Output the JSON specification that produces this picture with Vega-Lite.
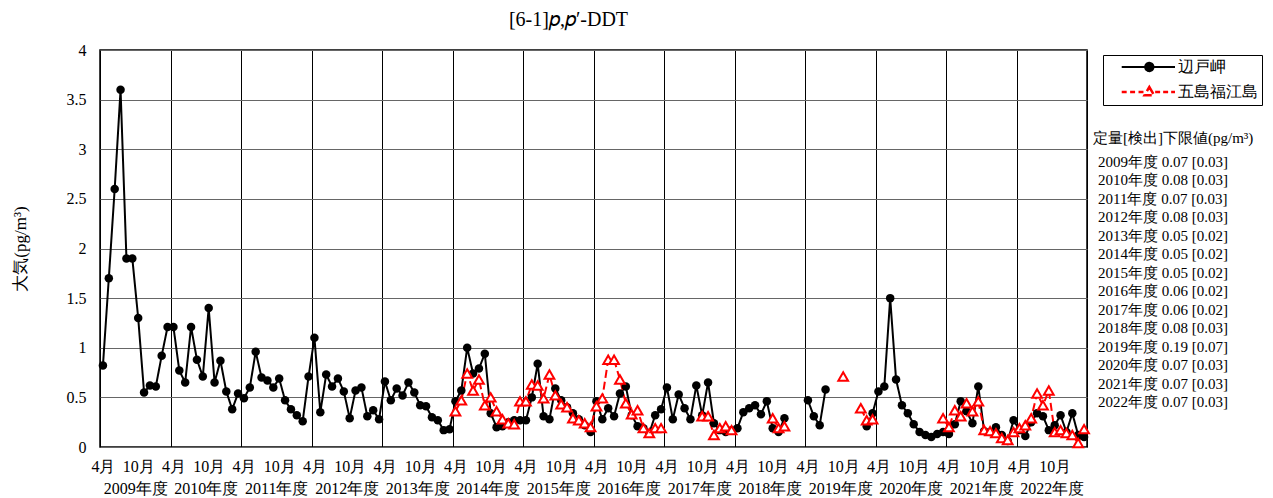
{
"$schema": "https://vega.github.io/schema/vega-lite/v6.json",
"width": 987, "height": 397,
"autosize": {"type": "none"},
"padding": {"left": 100, "top": 50, "right": 186, "bottom": 51},
"background": "white",
"config": {"view": {"stroke": "black", "strokeWidth": 1.5}, "font": "Liberation Serif", "axis": {"labelFont": "Liberation Serif", "titleFont": "Liberation Serif", "labelColor": "black", "titleColor": "black"}, "legend": {"labelFont": "Liberation Serif", "titleFont": "Liberation Serif", "labelColor": "black", "titleColor": "black"}},
"title": {"text": "[6-1]𝑝,𝑝′-DDT", "fontSize": 20, "font": "Liberation Serif", "fontWeight": "normal", "anchor": "middle", "frame": "group", "dx": -25, "offset": 12, "color": "black"},
"datasets": {
"obs": [
{"m":0,"s":"辺戸岬","v":0.82},{"m":1,"s":"辺戸岬","v":1.70},{"m":2,"s":"辺戸岬","v":2.60},{"m":3,"s":"辺戸岬","v":3.60},{"m":4,"s":"辺戸岬","v":1.90},{"m":5,"s":"辺戸岬","v":1.90},{"m":6,"s":"辺戸岬","v":1.30},{"m":7,"s":"辺戸岬","v":0.55},{"m":8,"s":"辺戸岬","v":0.62},{"m":9,"s":"辺戸岬","v":0.61},{"m":10,"s":"辺戸岬","v":0.92},{"m":11,"s":"辺戸岬","v":1.21},
{"m":12,"s":"辺戸岬","v":1.21},{"m":13,"s":"辺戸岬","v":0.77},{"m":14,"s":"辺戸岬","v":0.65},{"m":15,"s":"辺戸岬","v":1.21},{"m":16,"s":"辺戸岬","v":0.88},{"m":17,"s":"辺戸岬","v":0.71},{"m":18,"s":"辺戸岬","v":1.40},{"m":19,"s":"辺戸岬","v":0.65},{"m":20,"s":"辺戸岬","v":0.87},{"m":21,"s":"辺戸岬","v":0.56},{"m":22,"s":"辺戸岬","v":0.38},{"m":23,"s":"辺戸岬","v":0.54},
{"m":24,"s":"辺戸岬","v":0.49},{"m":25,"s":"辺戸岬","v":0.60},{"m":26,"s":"辺戸岬","v":0.96},{"m":27,"s":"辺戸岬","v":0.70},{"m":28,"s":"辺戸岬","v":0.67},{"m":29,"s":"辺戸岬","v":0.60},{"m":30,"s":"辺戸岬","v":0.69},{"m":31,"s":"辺戸岬","v":0.47},{"m":32,"s":"辺戸岬","v":0.38},{"m":33,"s":"辺戸岬","v":0.32},{"m":34,"s":"辺戸岬","v":0.26},{"m":35,"s":"辺戸岬","v":0.71},
{"m":36,"s":"辺戸岬","v":1.10},{"m":37,"s":"辺戸岬","v":0.35},{"m":38,"s":"辺戸岬","v":0.73},{"m":39,"s":"辺戸岬","v":0.61},{"m":40,"s":"辺戸岬","v":0.69},{"m":41,"s":"辺戸岬","v":0.56},{"m":42,"s":"辺戸岬","v":0.29},{"m":43,"s":"辺戸岬","v":0.57},{"m":44,"s":"辺戸岬","v":0.60},{"m":45,"s":"辺戸岬","v":0.31},{"m":46,"s":"辺戸岬","v":0.37},{"m":47,"s":"辺戸岬","v":0.28},
{"m":48,"s":"辺戸岬","v":0.66},{"m":49,"s":"辺戸岬","v":0.47},{"m":50,"s":"辺戸岬","v":0.59},{"m":51,"s":"辺戸岬","v":0.52},{"m":52,"s":"辺戸岬","v":0.65},{"m":53,"s":"辺戸岬","v":0.55},{"m":54,"s":"辺戸岬","v":0.42},{"m":55,"s":"辺戸岬","v":0.41},{"m":56,"s":"辺戸岬","v":0.30},{"m":57,"s":"辺戸岬","v":0.27},{"m":58,"s":"辺戸岬","v":0.17},{"m":59,"s":"辺戸岬","v":0.18},
{"m":60,"s":"辺戸岬","v":0.46},{"m":61,"s":"辺戸岬","v":0.57},{"m":62,"s":"辺戸岬","v":1.00},{"m":63,"s":"辺戸岬","v":0.74},{"m":64,"s":"辺戸岬","v":0.79},{"m":65,"s":"辺戸岬","v":0.94},{"m":66,"s":"辺戸岬","v":0.34},{"m":67,"s":"辺戸岬","v":0.20},{"m":68,"s":"辺戸岬","v":0.21},{"m":69,"s":"辺戸岬","v":0.25},{"m":70,"s":"辺戸岬","v":0.27},{"m":71,"s":"辺戸岬","v":0.27},
{"m":72,"s":"辺戸岬","v":0.27},{"m":73,"s":"辺戸岬","v":0.50},{"m":74,"s":"辺戸岬","v":0.84},{"m":75,"s":"辺戸岬","v":0.31},{"m":76,"s":"辺戸岬","v":0.28},{"m":77,"s":"辺戸岬","v":0.59},{"m":78,"s":"辺戸岬","v":0.47},{"m":79,"s":"辺戸岬","v":0.40},{"m":80,"s":"辺戸岬","v":0.34},{"m":81,"s":"辺戸岬","v":0.28},{"m":82,"s":"辺戸岬","v":0.22},{"m":83,"s":"辺戸岬","v":0.15},
{"m":84,"s":"辺戸岬","v":0.46},{"m":85,"s":"辺戸岬","v":0.28},{"m":86,"s":"辺戸岬","v":0.39},{"m":87,"s":"辺戸岬","v":0.31},{"m":88,"s":"辺戸岬","v":0.54},{"m":89,"s":"辺戸岬","v":0.61},{"m":90,"s":"辺戸岬","v":0.32},{"m":91,"s":"辺戸岬","v":0.21},{"m":92,"s":"辺戸岬","v":0.19},{"m":93,"s":"辺戸岬","v":0.14},{"m":94,"s":"辺戸岬","v":0.32},{"m":95,"s":"辺戸岬","v":0.38},
{"m":96,"s":"辺戸岬","v":0.60},{"m":97,"s":"辺戸岬","v":0.28},{"m":98,"s":"辺戸岬","v":0.53},{"m":99,"s":"辺戸岬","v":0.39},{"m":100,"s":"辺戸岬","v":0.28},{"m":101,"s":"辺戸岬","v":0.62},{"m":102,"s":"辺戸岬","v":0.32},{"m":103,"s":"辺戸岬","v":0.65},{"m":104,"s":"辺戸岬","v":0.24},{"m":105,"s":"辺戸岬","v":0.17},{"m":106,"s":"辺戸岬","v":0.15},{"m":107,"s":"辺戸岬","v":0.17},
{"m":108,"s":"辺戸岬","v":0.19},{"m":109,"s":"辺戸岬","v":0.35},{"m":110,"s":"辺戸岬","v":0.39},{"m":111,"s":"辺戸岬","v":0.42},{"m":112,"s":"辺戸岬","v":0.33},{"m":113,"s":"辺戸岬","v":0.46},{"m":114,"s":"辺戸岬","v":0.19},{"m":115,"s":"辺戸岬","v":0.15},{"m":116,"s":"辺戸岬","v":0.29},{"m":117,"s":"辺戸岬","v":null},{"m":118,"s":"辺戸岬","v":null},{"m":119,"s":"辺戸岬","v":null},
{"m":120,"s":"辺戸岬","v":0.47},{"m":121,"s":"辺戸岬","v":0.31},{"m":122,"s":"辺戸岬","v":0.22},{"m":123,"s":"辺戸岬","v":0.58},{"m":124,"s":"辺戸岬","v":null},{"m":125,"s":"辺戸岬","v":null},{"m":126,"s":"辺戸岬","v":null},{"m":127,"s":"辺戸岬","v":null},{"m":128,"s":"辺戸岬","v":null},{"m":129,"s":"辺戸岬","v":null},{"m":130,"s":"辺戸岬","v":0.21},{"m":131,"s":"辺戸岬","v":0.34},
{"m":132,"s":"辺戸岬","v":0.56},{"m":133,"s":"辺戸岬","v":0.61},{"m":134,"s":"辺戸岬","v":1.50},{"m":135,"s":"辺戸岬","v":0.68},{"m":136,"s":"辺戸岬","v":0.42},{"m":137,"s":"辺戸岬","v":0.34},{"m":138,"s":"辺戸岬","v":0.23},{"m":139,"s":"辺戸岬","v":0.15},{"m":140,"s":"辺戸岬","v":0.12},{"m":141,"s":"辺戸岬","v":0.10},{"m":142,"s":"辺戸岬","v":0.13},{"m":143,"s":"辺戸岬","v":0.15},
{"m":144,"s":"辺戸岬","v":0.13},{"m":145,"s":"辺戸岬","v":0.23},{"m":146,"s":"辺戸岬","v":0.46},{"m":147,"s":"辺戸岬","v":0.36},{"m":148,"s":"辺戸岬","v":0.24},{"m":149,"s":"辺戸岬","v":0.61},{"m":150,"s":"辺戸岬","v":0.16},{"m":151,"s":"辺戸岬","v":0.15},{"m":152,"s":"辺戸岬","v":0.20},{"m":153,"s":"辺戸岬","v":0.12},{"m":154,"s":"辺戸岬","v":0.06},{"m":155,"s":"辺戸岬","v":0.27},
{"m":156,"s":"辺戸岬","v":0.17},{"m":157,"s":"辺戸岬","v":0.11},{"m":158,"s":"辺戸岬","v":0.25},{"m":159,"s":"辺戸岬","v":0.34},{"m":160,"s":"辺戸岬","v":0.31},{"m":161,"s":"辺戸岬","v":0.17},{"m":162,"s":"辺戸岬","v":0.22},{"m":163,"s":"辺戸岬","v":0.32},{"m":164,"s":"辺戸岬","v":0.15},{"m":165,"s":"辺戸岬","v":0.34},{"m":166,"s":"辺戸岬","v":0.12},{"m":167,"s":"辺戸岬","v":0.10},
{"m":60,"s":"五島福江島","v":0.36},{"m":61,"s":"五島福江島","v":0.47},{"m":62,"s":"五島福江島","v":0.74},{"m":63,"s":"五島福江島","v":0.57},{"m":64,"s":"五島福江島","v":0.68},{"m":65,"s":"五島福江島","v":0.42},{"m":66,"s":"五島福江島","v":0.50},{"m":67,"s":"五島福江島","v":0.36},{"m":68,"s":"五島福江島","v":0.28},{"m":69,"s":"五島福江島","v":0.24},{"m":70,"s":"五島福江島","v":0.23},{"m":71,"s":"五島福江島","v":0.46},
{"m":72,"s":"五島福江島","v":0.46},{"m":73,"s":"五島福江島","v":0.63},{"m":74,"s":"五島福江島","v":0.62},{"m":75,"s":"五島福江島","v":0.49},{"m":76,"s":"五島福江島","v":0.73},{"m":77,"s":"五島福江島","v":0.52},{"m":78,"s":"五島福江島","v":0.43},{"m":79,"s":"五島福江島","v":0.40},{"m":80,"s":"五島福江島","v":0.29},{"m":81,"s":"五島福江島","v":0.27},{"m":82,"s":"五島福江島","v":0.24},{"m":83,"s":"五島福江島","v":0.20},
{"m":84,"s":"五島福江島","v":0.41},{"m":85,"s":"五島福江島","v":0.49},{"m":86,"s":"五島福江島","v":0.88},{"m":87,"s":"五島福江島","v":0.88},{"m":88,"s":"五島福江島","v":0.68},{"m":89,"s":"五島福江島","v":0.44},{"m":90,"s":"五島福江島","v":0.33},{"m":91,"s":"五島福江島","v":0.37},{"m":92,"s":"五島福江島","v":0.19},{"m":93,"s":"五島福江島","v":0.14},{"m":94,"s":"五島福江島","v":0.19},{"m":95,"s":"五島福江島","v":0.19},
{"m":96,"s":"五島福江島","v":null},{"m":97,"s":"五島福江島","v":null},{"m":98,"s":"五島福江島","v":null},{"m":99,"s":"五島福江島","v":null},{"m":100,"s":"五島福江島","v":null},{"m":101,"s":"五島福江島","v":null},{"m":102,"s":"五島福江島","v":0.31},{"m":103,"s":"五島福江島","v":0.31},{"m":104,"s":"五島福江島","v":0.12},{"m":105,"s":"五島福江島","v":0.19},{"m":106,"s":"五島福江島","v":0.21},{"m":107,"s":"五島福江島","v":0.17},
{"m":108,"s":"五島福江島","v":null},{"m":109,"s":"五島福江島","v":null},{"m":110,"s":"五島福江島","v":null},{"m":111,"s":"五島福江島","v":null},{"m":112,"s":"五島福江島","v":null},{"m":113,"s":"五島福江島","v":null},{"m":114,"s":"五島福江島","v":0.29},{"m":115,"s":"五島福江島","v":0.19},{"m":116,"s":"五島福江島","v":0.21},{"m":117,"s":"五島福江島","v":null},{"m":118,"s":"五島福江島","v":null},{"m":119,"s":"五島福江島","v":null},
{"m":120,"s":"五島福江島","v":null},{"m":121,"s":"五島福江島","v":null},{"m":122,"s":"五島福江島","v":null},{"m":123,"s":"五島福江島","v":null},{"m":124,"s":"五島福江島","v":null},{"m":125,"s":"五島福江島","v":null},{"m":126,"s":"五島福江島","v":0.71},{"m":127,"s":"五島福江島","v":null},{"m":128,"s":"五島福江島","v":null},{"m":129,"s":"五島福江島","v":0.39},{"m":130,"s":"五島福江島","v":0.27},{"m":131,"s":"五島福江島","v":0.28},
{"m":132,"s":"五島福江島","v":null},{"m":133,"s":"五島福江島","v":null},{"m":134,"s":"五島福江島","v":null},{"m":135,"s":"五島福江島","v":null},{"m":136,"s":"五島福江島","v":null},{"m":137,"s":"五島福江島","v":null},{"m":138,"s":"五島福江島","v":null},{"m":139,"s":"五島福江島","v":null},{"m":140,"s":"五島福江島","v":null},{"m":141,"s":"五島福江島","v":null},{"m":142,"s":"五島福江島","v":null},{"m":143,"s":"五島福江島","v":0.29},
{"m":144,"s":"五島福江島","v":0.20},{"m":145,"s":"五島福江島","v":0.37},{"m":146,"s":"五島福江島","v":0.31},{"m":147,"s":"五島福江島","v":0.44},{"m":148,"s":"五島福江島","v":0.36},{"m":149,"s":"五島福江島","v":0.46},{"m":150,"s":"五島福江島","v":0.17},{"m":151,"s":"五島福江島","v":0.16},{"m":152,"s":"五島福江島","v":0.14},{"m":153,"s":"五島福江島","v":0.09},{"m":154,"s":"五島福江島","v":0.07},{"m":155,"s":"五島福江島","v":0.15},
{"m":156,"s":"五島福江島","v":0.19},{"m":157,"s":"五島福江島","v":0.22},{"m":158,"s":"五島福江島","v":0.29},{"m":159,"s":"五島福江島","v":0.54},{"m":160,"s":"五島福江島","v":0.42},{"m":161,"s":"五島福江島","v":0.57},{"m":162,"s":"五島福江島","v":0.15},{"m":163,"s":"五島福江島","v":0.17},{"m":164,"s":"五島福江島","v":0.14},{"m":165,"s":"五島福江島","v":0.12},{"m":166,"s":"五島福江島","v":0.04},{"m":167,"s":"五島福江島","v":0.18}
],
"limits": [
{"label":"2009年度 0.07 [0.03]"},{"label":"2010年度 0.08 [0.03]"},{"label":"2011年度 0.07 [0.03]"},{"label":"2012年度 0.08 [0.03]"},{"label":"2013年度 0.05 [0.02]"},{"label":"2014年度 0.05 [0.02]"},{"label":"2015年度 0.05 [0.02]"},{"label":"2016年度 0.06 [0.02]"},{"label":"2017年度 0.06 [0.02]"},{"label":"2018年度 0.08 [0.03]"},{"label":"2019年度 0.19 [0.07]"},{"label":"2020年度 0.07 [0.03]"},{"label":"2021年度 0.07 [0.03]"},{"label":"2022年度 0.07 [0.03]"}
]
},
"layer": [
{
"data": {"name": "obs"},
"mark": {"type": "line", "strokeWidth": 2},
"encoding": {
"x": {"field": "m", "type": "quantitative", "scale": {"domain": [-0.5, 167.5], "nice": false, "zero": false},
 "axis": {"values": [-0.5,11.5,23.5,35.5,47.5,59.5,71.5,83.5,95.5,107.5,119.5,131.5,143.5,155.5,167.5,0,6,12,18,24,30,36,42,48,54,60,66,72,78,84,90,96,102,108,114,120,126,132,138,144,150,156,162],
  "grid": true, "gridColor": "black", "gridWidth": 1,
  "gridOpacity": {"condition": {"test": "(datum.value + 0.5) % 12 === 0", "value": 1}, "value": 0},
  "ticks": false, "domain": false,
  "labelExpr": "datum.value % 12 === 0 ? '4月' : (datum.value % 12 === 6 ? '10月' : '')",
  "labelFontSize": 16, "labelPadding": 11, "labelOverlap": false, "labelFlush": false, "labelBound": false, "title": null}},
"y": {"field": "v", "type": "quantitative", "scale": {"domain": [0, 4], "nice": false, "zero": true},
 "axis": {"values": [0,0.5,1,1.5,2,2.5,3,3.5,4], "grid": true, "gridColor": "#666666", "gridWidth": 1, "ticks": false, "domain": false,
  "labelExpr": "'' + datum.value", "labelFontSize": 16, "labelPadding": 14,
  "title": "大気(pg/m³)", "titleFontSize": 17, "titleFontWeight": "normal", "titlePadding": 37}},
"color": {"field": "s", "type": "nominal", "scale": {"domain": ["辺戸岬", "五島福江島"], "range": ["#000000", "#ff0000"]},
 "legend": {"orient": "none", "legendX": 1003, "legendY": 5, "title": null, "symbolSize": 256, "rowPadding": 6, "padding": 4, "labelOffset": 55, "labelFontSize": 16, "strokeColor": "black", "fillColor": "white", "symbolStrokeWidth": 2,
  "encode": {"symbols": {"update": {
   "size": {"value": 256},
   "shape": {"signal": "datum.value === '辺戸岬' ? 'M0.84,0L7.5,0M4.81,0A0.52,0.52 0 1,1 3.77,0A0.52,0.52 0 1,1 4.81,0Z' : 'M0.84,0L1.46,0M1.89,0L2.51,0M2.94,0L3.56,0M4.29,-0.62L4.89,0.42L3.69,0.42ZM5.02,0L5.64,0M6.02,0L6.64,0M7.02,0L7.5,0'"},
   "fill": {"signal": "datum.value === '辺戸岬' ? '#000000' : '#ffffff'"},
   "strokeWidth": {"signal": "datum.value === '辺戸岬' ? 2 : 2.5"},
   "strokeDash": {"value": [1, 0]}
  }}}}},
"strokeDash": {"field": "s", "type": "nominal", "scale": {"domain": ["辺戸岬", "五島福江島"], "range": [[1, 0], [8, 4]]}, "legend": null}
}
},
{
"data": {"name": "obs"},
"transform": [{"filter": "datum.s === '辺戸岬'"}],
"mark": {"type": "point", "shape": "circle", "filled": true, "color": "black", "opacity": 1, "size": 72},
"encoding": {
"x": {"field": "m", "type": "quantitative",
 "axis": {"orient": "bottom", "values": [5.5,17.5,29.5,41.5,53.5,65.5,77.5,89.5,101.5,113.5,125.5,137.5,149.5,161.5], "grid": false, "ticks": false, "domain": false,
  "labelExpr": "(2009 + floor(datum.value / 12)) + '年度'", "labelFontSize": 16, "labelPadding": 33, "labelOverlap": false, "labelFlush": false, "labelBound": false, "title": null}},
"y": {"field": "v", "type": "quantitative"}
}
},
{
"data": {"name": "obs"},
"transform": [{"filter": "datum.s === '五島福江島'"}],
"mark": {"type": "point", "shape": "triangle-up", "filled": true, "fill": "white", "stroke": "#ff0000", "strokeWidth": 2, "opacity": 1, "size": 95},
"encoding": {
"x": {"field": "m", "type": "quantitative", "axis": null},
"y": {"field": "v", "type": "quantitative"}
}
},
{
"data": {"name": "limits"},
"mark": {"type": "point", "opacity": 0},
"encoding": {
"shape": {"field": "label", "type": "nominal",
 "legend": {"orient": "none", "legendX": 993, "legendY": 81, "title": "定量[検出]下限値(pg/m³)", "titleFontSize": 15, "titleFontWeight": "normal", "titlePadding": 8, "labelFontSize": 15, "symbolSize": 0, "symbolOpacity": 0, "symbolStrokeWidth": 0, "labelOffset": -10, "rowPadding": 2.5, "padding": 0, "labelLimit": 300, "titleLimit": 300}}
}
}
],
"resolve": {"axis": {"x": "independent"}}
}
